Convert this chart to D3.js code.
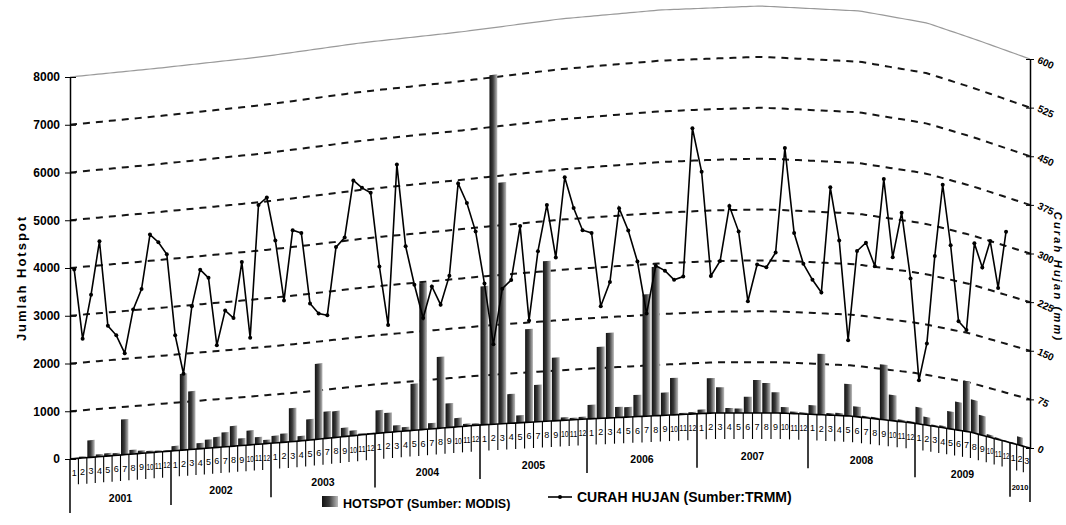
<!DOCTYPE html>
<html>
<head>
<meta charset="utf-8">
<style>
  body { margin: 0; background: #fff; }
  svg { font-family: "Liberation Sans", Arial, sans-serif; }
</style>
</head>
<body>
<div id="chart"></div>
<script src="https://cdn.jsdelivr.net/npm/d3@7"></script>
<script>
var years = ["2001", "2002", "2003", "2004", "2005", "2006", "2007", "2008", "2009", "2010"];
var monthsPerYear = [12, 12, 12, 12, 12, 12, 12, 12, 12, 3];

// jumlah hotspot per bulan (MODIS), Jan 2001 - Mar 2010
var hotspot = [
  20, 30, 360, 50, 60, 50, 740, 90, 60, 40, 30, 20,
  100, 1590, 1210, 120, 180, 220, 300, 420, 150, 300, 150, 80,
  150, 180, 690, 100, 430, 1550, 550, 540, 180, 110, 30, 20,
  470, 400, 130, 80, 950, 2980, 120, 1450, 490, 180, 50, 40,
  2800, 7050, 4860, 590, 150, 1870, 740, 3200, 1260, 60, 40, 50,
  280, 1420, 1690, 210, 200, 430, 2410, 2940, 450, 730, 30, 40,
  80, 690, 510, 100, 90, 320, 650, 590, 410, 120, 40, 30,
  180, 1200, 40, 50, 630, 200, 30, 30, 1090, 510, 40, 30,
  330, 160, 30, 40, 350, 565, 1020, 670, 400, 50, 30, 20,
  20, 170, 0
];

// curah hujan bulanan (TRMM, mm), Jan 2001 - Des 2009
var curahHujan = [
  297, 187, 255, 338, 204, 188, 159, 226, 257, 341, 328, 308,
  180, 119, 223, 279, 265, 159, 212, 199, 285, 166, 371, 381,
  313, 219, 326, 320, 210, 193, 189, 292, 305, 391, 378, 369,
  255, 164, 408, 282, 222, 170, 217, 188, 231, 370, 339, 294,
  214, 121, 204, 216, 296, 153, 256, 324, 244, 363, 316, 282,
  277, 167, 202, 311, 277, 230, 152, 222, 214, 200, 204, 423,
  358, 203, 225, 306, 268, 165, 219, 215, 237, 392, 267, 222,
  199, 181, 337, 259, 112, 245, 259, 226, 357, 243, 311, 215,
  65, 122, 255, 365, 277, 165, 154, 289, 256, 300, 232, 322
];

var leftTicks = [0, 1000, 2000, 3000, 4000, 5000, 6000, 7000, 8000];
var rightTicks = [0, 75, 150, 225, 300, 375, 450, 525, 600];

var width = 1066, height = 525;

var svg = d3.select("#chart").append("svg")
    .attr("width", width)
    .attr("height", height);

// the page was bent when scanned: years are not equally wide and the
// bottom / top of the plot follow the paper, so the scales follow it too
var yearStarts = [0].concat(Array.from(d3.cumsum(monthsPerYear)));
var x = d3.scaleLinear()
    .domain(yearStarts)
    .range([70, 171, 271, 375, 480, 587, 697, 808, 915, 1010, 1030]);
var bottomEdge = d3.scaleLinear()
    .domain([70, 171, 300, 380, 480, 587, 713, 780, 850, 913, 970, 1030])
    .range([459, 451, 441, 433, 425, 419, 413, 413, 416, 423, 432, 448]);
var topEdge = d3.scaleLinear()
    .domain([70, 160, 260, 360, 460, 560, 660, 760, 860, 927, 977, 1030])
    .range([77, 68, 57, 43, 32, 19, 10, 6, 11, 23, 40, 59]);
var rainToHot = d3.scaleLinear().domain([0, 600]).range([0, 8000]);

function yAt(px) {
  return d3.scaleLinear().domain([0, 8000]).range([bottomEdge(px), topEdge(px)]);
}
function y(v, px) { return yAt(px)(v); }

var nMonths = d3.sum(monthsPerYear);
var x0 = x(0), x1 = x(nMonths);
var sweep = d3.range(x0, x1, 4).concat([x1]);

// bar gradient
var defs = svg.append("defs");
var grad = defs.append("linearGradient").attr("id", "barFill")
    .attr("x1", 0).attr("x2", 1).attr("y1", 0).attr("y2", 0);
grad.append("stop").attr("offset", 0).attr("stop-color", "#111");
grad.append("stop").attr("offset", 0.45).attr("stop-color", "#3c3c3c");
grad.append("stop").attr("offset", 1).attr("stop-color", "#bdbdbd");

// dashed grid lines
var line = d3.line().x(function(d) { return d[0]; }).y(function(d) { return d[1]; });
svg.append("g").selectAll("path")
  .data(leftTicks.slice(1, -1))
  .enter().append("path")
    .attr("d", function(v) { return line(sweep.map(function(px) { return [px, y(v, px)]; })); })
    .attr("fill", "none")
    .attr("stroke", "#151515")
    .attr("stroke-width", 2)
    .attr("stroke-dasharray", "7,6");

// top edge of the plot
svg.append("path")
    .attr("d", line(sweep.map(function(px) { return [px, y(8000, px)]; })))
    .attr("fill", "none")
    .attr("stroke", "#9a9a9a")
    .attr("stroke-width", 1.2);

// bars
svg.append("g").selectAll("path")
  .data(hotspot)
  .enter().append("path")
    .attr("d", function(v, i) {
      var l = x(i + 0.06), r = x(i + 0.94);
      return "M" + l + "," + y(0, l) + "L" + l + "," + y(v, l) +
             "L" + r + "," + y(v, r) + "L" + r + "," + y(0, r) + "Z";
    })
    .attr("fill", "url(#barFill)");

// x axis line
svg.append("path")
    .attr("d", line(sweep.map(function(px) { return [px, bottomEdge(px)]; })))
    .attr("fill", "none")
    .attr("stroke", "#000")
    .attr("stroke-width", 1.6);

// month ticks and labels
var xAxis = svg.append("g");
xAxis.selectAll("line")
  .data(d3.range(0, nMonths + 1))
  .enter().append("line")
    .attr("x1", function(k) { return x(k); })
    .attr("x2", function(k) { return x(k); })
    .attr("y1", function(k) { return bottomEdge(x(k)); })
    .attr("y2", function(k) { return bottomEdge(x(k)) + (yearStarts.indexOf(k) >= 0 ? 54 : 26); })
    .attr("stroke", "#000")
    .attr("stroke-width", function(k) { return yearStarts.indexOf(k) >= 0 ? 1.5 : 1.1; });

var monthLabels = [];
years.forEach(function(yr, yi) {
  for (var m = 1; m <= monthsPerYear[yi]; m++) monthLabels.push({ i: yearStarts[yi] + m - 1, m: m });
});
xAxis.selectAll("text.month")
  .data(monthLabels)
  .enter().append("text")
    .attr("class", "month")
    .attr("x", function(d) { return x(d.i + 0.5); })
    .attr("y", function(d) { return bottomEdge(x(d.i + 0.5)) + 17; })
    .attr("text-anchor", "middle")
    .attr("font-size", 9)
    .attr("textLength", function(d) { return d.m >= 10 ? (x(d.i + 1) - x(d.i)) * 0.85 : null; })
    .attr("lengthAdjust", "spacingAndGlyphs")
    .text(function(d) { return d.m; });

xAxis.selectAll("text.year")
  .data(years)
  .enter().append("text")
    .attr("class", "year")
    .attr("x", function(d, i) { return x((yearStarts[i] + yearStarts[i + 1]) / 2); })
    .attr("y", function(d, i) { return bottomEdge(x((yearStarts[i] + yearStarts[i + 1]) / 2)) + (monthsPerYear[i] < 12 ? 45 : 47); })
    .attr("text-anchor", "middle")
    .attr("font-size", function(d, i) { return monthsPerYear[i] < 12 ? 7.5 : 10.5; })
    .attr("font-weight", "bold")
    .text(function(d) { return d; });

// rainfall line
var rainPts = curahHujan.map(function(mm, i) {
  var px = x(i + 0.5);
  return [px, y(rainToHot(mm), px)];
});
svg.append("path")
    .attr("d", line(rainPts))
    .attr("fill", "none")
    .attr("stroke", "#000")
    .attr("stroke-width", 1.6);
svg.append("g").selectAll("circle")
  .data(rainPts)
  .enter().append("circle")
    .attr("cx", function(d) { return d[0]; })
    .attr("cy", function(d) { return d[1]; })
    .attr("r", 2)
    .attr("fill", "#000");

// left axis
var yLeft = yAt(x0);
var gl = svg.append("g").attr("transform", "translate(" + x0 + ",0)")
    .call(d3.axisLeft(yLeft).tickValues(leftTicks).tickFormat(d3.format("d"))
      .tickSize(5).tickSizeOuter(0).tickPadding(5));
gl.selectAll(".tick line").attr("x1", 6);
gl.selectAll(".tick text").attr("font-size", 12).attr("font-weight", "bold");
gl.select(".domain").attr("stroke-width", 1.5);

// right axis
var yRight = d3.scaleLinear().domain([0, 600]).range([bottomEdge(x1), topEdge(x1)]);
var gr = svg.append("g").attr("transform", "translate(" + x1 + ",0)")
    .call(d3.axisRight(yRight).tickValues(rightTicks).tickFormat(d3.format("d"))
      .tickSize(4).tickSizeOuter(0).tickPadding(4));
gr.selectAll(".tick line").attr("x1", -4);
gr.selectAll(".tick text").attr("font-size", 10).attr("font-weight", "bold")
    .attr("transform", "rotate(25,8,0)");
gr.select(".domain").attr("stroke-width", 1.5);

// axis titles
svg.append("text")
    .attr("transform", "translate(26,278) rotate(-90)")
    .attr("text-anchor", "middle")
    .attr("font-size", 13)
    .attr("font-weight", "bold")
    .attr("letter-spacing", 2)
    .text("Jumlah Hotspot");
svg.append("text")
    .attr("transform", "translate(1054,277) rotate(90)")
    .attr("text-anchor", "middle")
    .attr("font-size", 11)
    .attr("font-weight", "bold")
    .attr("font-style", "italic")
    .attr("letter-spacing", 2.2)
    .text("Curah Hujan (mm)");

// legend
var leg = svg.append("g");
leg.append("rect").attr("x", 322).attr("y", 496).attr("width", 16).attr("height", 11)
    .attr("fill", "url(#barFill)");
leg.append("text").attr("x", 343).attr("y", 508)
    .attr("font-size", 12.5).attr("font-weight", "bold")
    .text("HOTSPOT (Sumber: MODIS)");
leg.append("line").attr("x1", 548).attr("x2", 572).attr("y1", 497).attr("y2", 497)
    .attr("stroke", "#000").attr("stroke-width", 1.6);
leg.append("circle").attr("cx", 560).attr("cy", 497).attr("r", 2).attr("fill", "#000");
leg.append("text").attr("x", 577).attr("y", 502)
    .attr("font-size", 14).attr("font-weight", "bold")
    .text("CURAH HUJAN (Sumber:TRMM)");
</script>
</body>
</html>
